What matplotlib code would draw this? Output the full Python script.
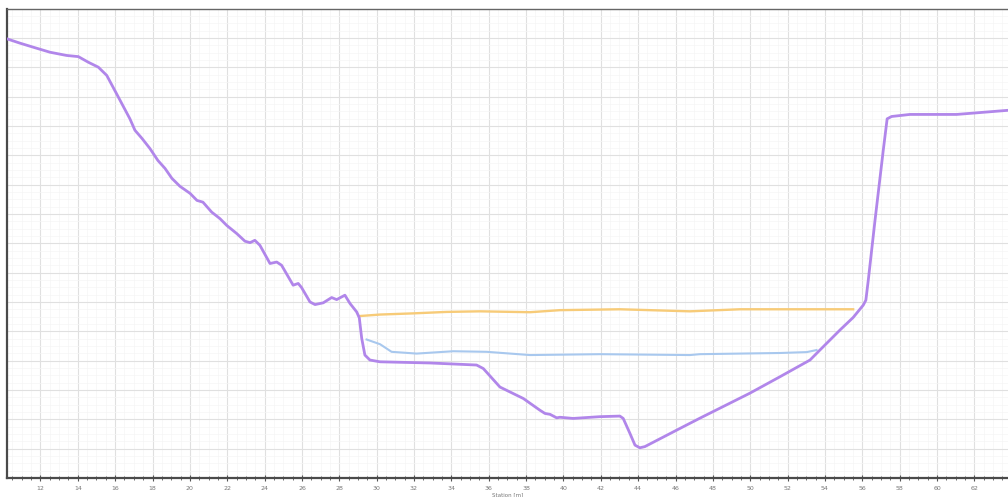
import matplotlib.pyplot as plt
from matplotlib.ticker import MultipleLocator, NullFormatter

# ground profile (station m, elevation)
ground_x = [10.19, 10.90, 11.62, 12.51, 13.40, 14.03, 14.56, 15.10, 15.55, 16.08,
            16.79, 17.06, 17.44, 17.86, 18.29, 18.67, 19.04, 19.47, 20.01, 20.38,
            20.70, 21.17, 21.61, 21.97, 22.51, 22.95, 23.22, 23.48, 23.75, 24.29,
            24.65, 24.91, 25.53, 25.80, 25.98, 26.43, 26.70, 27.14, 27.59, 27.86,
            28.30, 28.57, 28.93, 29.07, 29.20, 29.37, 29.64, 30.18, 32.85, 35.35,
            35.71, 36.60, 37.85, 38.74, 39.01, 39.28, 39.64, 39.81, 40.52, 41.95,
            43.02, 43.20, 43.56, 43.83, 44.09, 44.36, 46.24, 47.31, 49.98, 51.59,
            53.20, 53.73, 54.80, 55.51, 56.05, 56.19, 56.32, 56.68, 57.12, 57.33,
            57.57, 58.55, 61.05, 63.79]
ground_z = [14.97, 14.82, 14.68, 14.51, 14.40, 14.36, 14.17, 14.00, 13.72, 13.09,
            12.24, 11.85, 11.57, 11.23, 10.82, 10.55, 10.21, 9.94, 9.70, 9.46,
            9.40, 9.06, 8.84, 8.61, 8.33, 8.07, 8.02, 8.10, 7.93, 7.31,
            7.36, 7.25, 6.57, 6.63, 6.49, 6.00, 5.91, 5.97, 6.15, 6.08,
            6.23, 5.95, 5.66, 5.46, 4.76, 4.19, 4.02, 3.96, 3.92, 3.85,
            3.73, 3.10, 2.71, 2.31, 2.20, 2.17, 2.05, 2.07, 2.03, 2.09,
            2.11, 2.03, 1.52, 1.12, 1.03, 1.07, 1.69, 2.04, 2.89, 3.45,
            4.02, 4.36, 5.04, 5.47, 5.89, 6.06, 6.74, 8.78, 11.16, 12.24,
            12.32, 12.39, 12.39, 12.53]

# water surface, high
ws_high_x = [29.11, 30.18, 31.94, 33.75, 35.53, 38.21, 39.81, 43.02, 46.77, 49.45, 55.51]
ws_high_z = [5.52, 5.57, 5.61, 5.66, 5.68, 5.65, 5.72, 5.75, 5.68, 5.75, 5.75]

# water surface, low
ws_low_x = [29.46, 30.18, 30.80, 32.14, 34.10, 35.89, 38.21, 41.95, 46.77, 47.31, 51.59, 53.02, 53.55]
ws_low_z = [4.72, 4.56, 4.30, 4.24, 4.32, 4.30, 4.19, 4.22, 4.19, 4.22, 4.26, 4.29, 4.36]

station_ticks = list(range(12, 64, 2))

fig = plt.figure(figsize=(10.08, 4.97), dpi=100)
ax = fig.add_axes([7 / 1008, 19 / 497, 1 - 7 / 1008, 469.5 / 497])

ax.plot(ws_high_x, ws_high_z, color='#f7cb78', lw=1.7, zorder=3)
ax.plot(ws_low_x, ws_low_z, color='#a8c8ee', lw=1.5, zorder=3)
ax.plot(ground_x, ground_z, color='#b186ea', lw=2.0, zorder=4,
        solid_joinstyle='round')

ax.set_xlim(10.21, 63.8)
ax.set_ylim(0, 16)

ax.set_xticks(station_ticks)
ax.set_xticklabels([str(t) for t in station_ticks])
ax.xaxis.set_minor_locator(MultipleLocator(0.5))
ax.yaxis.set_major_locator(MultipleLocator(1))
ax.yaxis.set_minor_locator(MultipleLocator(0.25))
ax.yaxis.set_major_formatter(NullFormatter())

ax.grid(which='major', color='#e0e0e0', lw=0.8)
ax.grid(which='minor', color='#f5f5f5', lw=0.5)
ax.set_axisbelow(True)

ax.tick_params(axis='x', which='major', direction='inout', length=4, width=0.8,
               colors='#555555', labelsize=4.5, labelcolor='#777777', pad=4)
ax.tick_params(axis='x', which='minor', direction='inout', length=3, width=0.6,
               colors='#555555')
ax.tick_params(axis='y', which='both', length=0)

for side in ['left', 'bottom']:
    ax.spines[side].set_color('#4a4a4a')
    ax.spines[side].set_linewidth(1.6)
ax.spines['top'].set_color('#666666')
ax.spines['top'].set_linewidth(1.0)
ax.spines['right'].set_visible(False)

ax.set_xlabel('Station [m]', fontsize=4, color='#777777', labelpad=1)

fig.savefig('out.png', dpi=100)
